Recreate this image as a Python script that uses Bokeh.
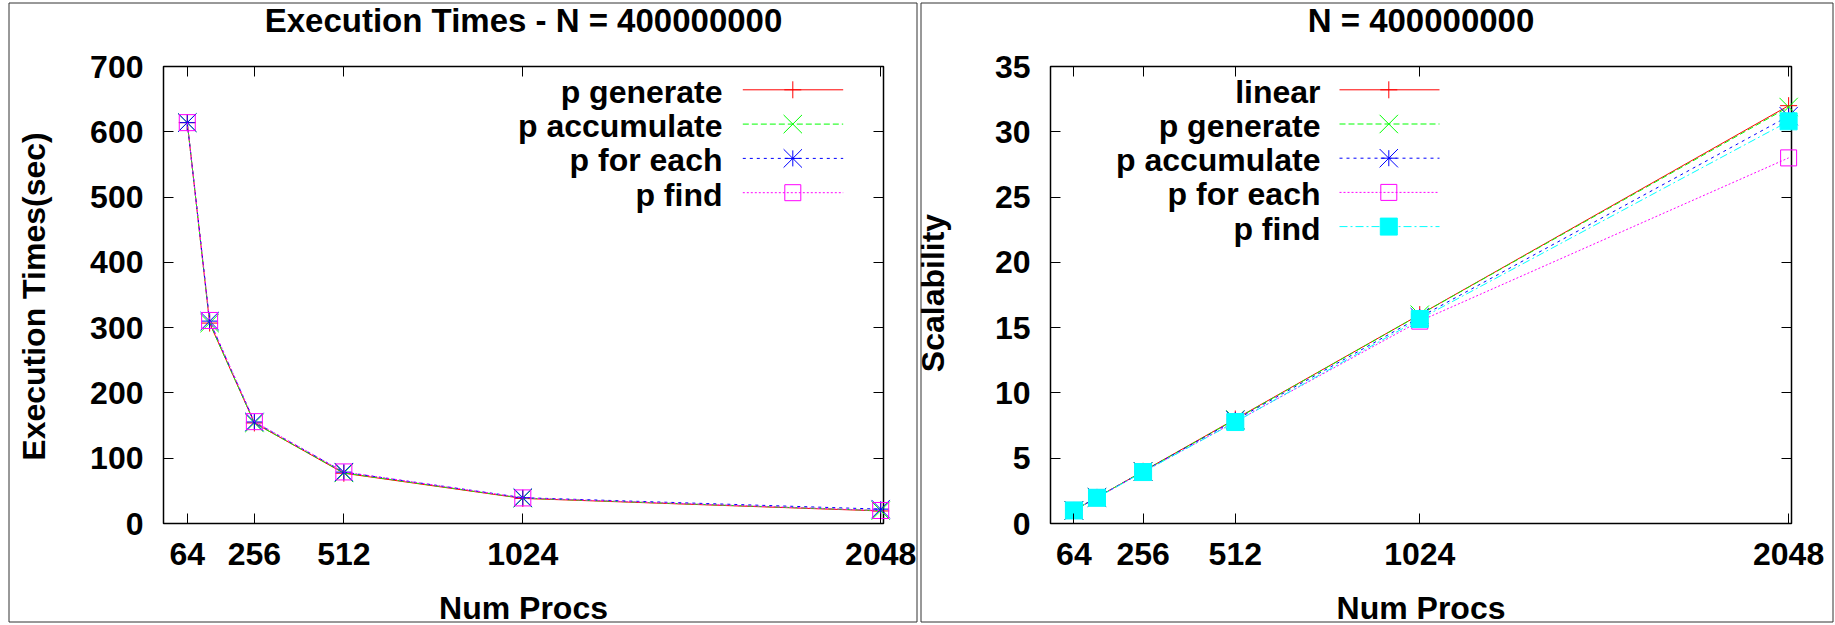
from bokeh.plotting import figure
from bokeh.models import Range1d, FixedTicker, LinearAxis
from bokeh.embed import file_html
from bokeh.resources import INLINE
from bokeh.core.properties import value
import math

# ---------------- data ----------------
procs = [64, 128, 256, 512, 1024, 2048]
x_ticks = [64, 256, 512, 1024, 2048]
x_label = "Num Procs"

time_title = "Execution Times - N = 400000000"
time_ylabel = "Execution Times(sec)"
time_names = ["p generate", "p accumulate", "p for each", "p find"]
time_generate = [614, 307, 154, 77, 38.4, 19.2]
time_accumulate = [614, 307, 154, 77.5, 38.8, 19.7]
time_for_each = [614, 310, 155.5, 78.7, 39.6, 22.0]
time_find = [614, 311, 156, 79, 39.2, 19.9]
time_ticks = [0, 100, 200, 300, 400, 500, 600, 700]

scal_title = "N = 400000000"
scal_ylabel = "Scalability"
scal_names = ["linear", "p generate", "p accumulate", "p for each", "p find"]
scal_linear = [1, 2, 4, 8, 16, 32]
scal_generate = [1, 2.0, 3.99, 7.97, 15.99, 31.9]
scal_accumulate = [1, 2.0, 3.98, 7.92, 15.8, 31.2]
scal_for_each = [1, 1.98, 3.95, 7.8, 15.5, 28.0]
scal_find = [1, 1.97, 3.94, 7.77, 15.66, 30.8]
scal_ticks = [0, 5, 10, 15, 20, 25, 30, 35]

# ---------------- styles / layout ----------------
LT = [
    dict(color="#ff0000", dash="solid", marker="plus"),
    dict(color="#00ff00", dash="6 3", marker="x"),
    dict(color="#0000ff", dash="3 4", marker="star"),
    dict(color="#ff00ff", dash="2 2", marker="box"),
    dict(color="#00ffff", dash="8 3 2 3", marker="fbox"),
]
FONT = "Liberation Sans"
FS = "32px"
PAGE_X0, PAGE_X1 = 0, 1835     # canvas extent on the page (x)
PAGE_Y0, PAGE_Y1 = 0, 625      # canvas extent on the page (y)
TITLE_BASE = 30
XLAB_BASE = 617
TXT_SHIFT = 10                 # svg text baseline correction (px)

p = figure(frame_width=PAGE_X1 - PAGE_X0, frame_height=PAGE_Y1 - PAGE_Y0,
           x_range=Range1d(0, 1), y_range=Range1d(0, 1),
           output_backend="svg", toolbar_location=None, title_location=None,
           x_axis_location=None, y_axis_location=None,
           min_border=0, min_border_left=0, min_border_right=0,
           min_border_top=0, min_border_bottom=0)
p.background_fill_color = "white"
p.border_fill_color = "white"
p.outline_line_color = None
p.grid.visible = False


def draw_marker(xs, ys, kind, color, rn):
    if kind == "plus":
        p.scatter(xs, ys, marker="cross", size=17, line_color=color, line_width=1, **rn)
    elif kind == "x":
        p.scatter(xs, ys, marker="x", size=26, line_color=color, line_width=1, **rn)
    elif kind == "star":
        p.scatter(xs, ys, marker="cross", size=16, line_color=color, line_width=1, **rn)
        p.scatter(xs, ys, marker="x", size=26, line_color=color, line_width=1, **rn)
    elif kind == "box":
        p.scatter(xs, ys, marker="square", size=16, fill_color=None,
                  line_color=color, line_width=1, **rn)
    else:
        p.scatter(xs, ys, marker="square", size=17, fill_color=color,
                  line_color=color, line_width=1, **rn)


def style_axis(ax, labels=True):
    ax.axis_line_color = None
    ax.major_tick_in = 10
    ax.major_tick_out = 0
    ax.major_tick_line_color = "black"
    ax.minor_tick_line_color = None
    ax.major_label_text_font = FONT
    ax.major_label_text_font_style = "bold"
    ax.major_label_text_font_size = FS
    ax.major_label_text_color = "black" if labels else None


def make_panel(key, box, dbox, border, title, ylabel, yticks,
               series, names, types, leg, ylab):
    L, R, T, B = box                      # plot box, page pixels
    x0, x1, y0, y1 = dbox                 # plot box, data units
    ppx = (R - L) / (x1 - x0)
    ppy = (B - T) / (y1 - y0)
    X = lambda px: x0 + (px - L) / ppx
    Y = lambda py: y1 - (py - T) / ppy
    xn, yn = "x" + key, "y" + key
    p.extra_x_ranges[xn] = Range1d(X(PAGE_X0), X(PAGE_X1))
    p.extra_y_ranges[yn] = Range1d(Y(PAGE_Y1), Y(PAGE_Y0))
    rn = dict(x_range_name=xn, y_range_name=yn)

    # panel border (gnuplot canvas frame)
    bl, br, bt, bb = border
    p.quad(left=[X(bl)], right=[X(br)], top=[Y(bt)], bottom=[Y(bb)],
           fill_color=None, line_color="#333333", line_width=1, **rn)

    # axes at the plot box edges
    xb = LinearAxis(fixed_location=y0, ticker=FixedTicker(ticks=x_ticks, minor_ticks=[]), **rn)
    style_axis(xb)
    xb.major_label_standoff = 19
    p.add_layout(xb, "below")
    yl = LinearAxis(fixed_location=x0, ticker=FixedTicker(ticks=yticks, minor_ticks=[]), **rn)
    style_axis(yl)
    yl.major_label_standoff = 20
    p.add_layout(yl, "left")
    xt = LinearAxis(fixed_location=y1, ticker=FixedTicker(ticks=x_ticks, minor_ticks=[]),
                    major_label_overrides={t: "" for t in x_ticks}, **rn)
    style_axis(xt, False)
    p.add_layout(xt, "above")
    yrx = LinearAxis(fixed_location=x1, ticker=FixedTicker(ticks=yticks, minor_ticks=[]),
                     major_label_overrides={t: "" for t in yticks}, **rn)
    style_axis(yrx, False)
    p.add_layout(yrx, "right")

    # plot box
    p.quad(left=[x0], right=[x1], top=[y1], bottom=[y0],
           fill_color=None, line_color="black", line_width=1.5, **rn)

    # title and axis labels
    cx = (L + R) / 2
    tkw = dict(text_font=value(FONT), text_font_style="bold", text_color="black",
               text_baseline="alphabetic", **rn)
    p.text([X(cx)], [Y(TITLE_BASE - TXT_SHIFT)], text=[title], text_align="center",
           text_font_size="33px", **tkw)
    p.text([X(cx)], [Y(XLAB_BASE - TXT_SHIFT)], text=[x_label], text_align="center",
           text_font_size=FS, **tkw)
    p.text([X(ylab[0] - TXT_SHIFT)], [Y(ylab[1])], text=[ylabel], text_align="center",
           angle=math.pi / 2, text_font_size=FS, **tkw)

    # data
    for ys, lt in zip(series, types):
        p.line(procs, ys, line_color=lt["color"], line_width=1, line_dash=lt["dash"], **rn)
        draw_marker(procs, ys, lt["marker"], lt["color"], rn)

    # gnuplot style key: text right-aligned, sample to its right
    tx, lx0, lx1, mx, ry0, rdy = leg
    for i, (nm, lt) in enumerate(zip(names, types)):
        ry = ry0 + i * rdy
        p.text([X(tx)], [Y(ry + 12 - TXT_SHIFT)], text=[nm], text_align="right",
               text_font_size=FS, **tkw)
        p.line([X(lx0), X(lx1)], [Y(ry), Y(ry)], line_color=lt["color"], line_width=1,
               line_dash=lt["dash"], **rn)
        draw_marker([X(mx)], [Y(ry)], lt["marker"], lt["color"], rn)


make_panel("1", (163, 883, 66, 523), (-4, 2056, 0, 700),
           (8.5, 916.5, 2.5, 621.5),
           time_title, time_ylabel, time_ticks,
           [time_generate, time_accumulate, time_for_each, time_find],
           time_names, LT[:4],
           (722, 742.3, 842.7, 792.3, 89.3, 34.3), (43, 296))

make_panel("2", (1050, 1791, 66, 523), (-1, 2056, 0, 35),
           (920.5, 1832.5, 2.5, 621.5),
           scal_title, scal_ylabel, scal_ticks,
           [scal_linear, scal_generate, scal_accumulate, scal_for_each, scal_find],
           scal_names, LT,
           (1320, 1339, 1439, 1388.3, 89.3, 34.2), (942, 292.5))

open("out.html", "w").write(file_html(p, INLINE))
